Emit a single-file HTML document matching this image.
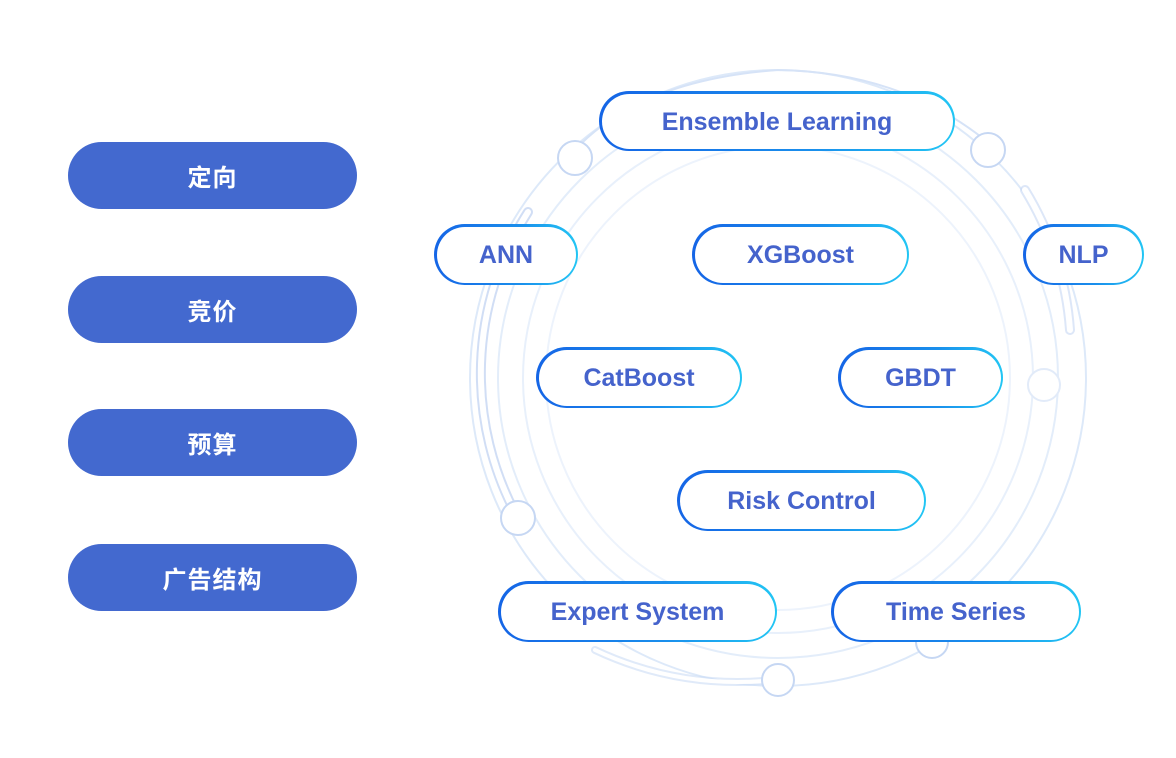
<!DOCTYPE html>
<html><head><meta charset="utf-8">
<style>
html,body{margin:0;padding:0;background:#fff;}
body{width:1176px;height:758px;position:relative;overflow:hidden;font-family:"Liberation Sans","Noto Sans CJK SC",sans-serif;}
.btn{position:absolute;left:68px;width:289px;height:67px;border-radius:34px;background:#4369cf;color:#fff;font-weight:bold;font-size:24px;display:flex;align-items:center;justify-content:center;letter-spacing:1px;}
.pill{position:absolute;border-radius:31px;padding:2.5px;background:linear-gradient(90deg,#1565e6,#1a8fec 60%,#22c6f4);box-sizing:border-box;}
.pill span{display:flex;width:100%;height:100%;border-radius:29px;background:#fff;align-items:center;justify-content:center;color:#4563cc;font-weight:bold;font-size:25px;box-sizing:border-box;padding-top:2px;}
svg{position:absolute;left:0;top:0;}
</style></head><body>
<svg width="1176" height="758" viewBox="0 0 1176 758">
<g fill="none" stroke="#c9dcf6" stroke-width="2">
<circle cx="778" cy="378" r="308" stroke="#dde9f9"/>
<circle cx="778" cy="378" r="280" stroke="#e3edfa"/>
<circle cx="778" cy="378" r="255" stroke="#e8f0fb"/>
<circle cx="778" cy="378" r="232" stroke="#edf3fc"/>
</g>
<g fill="none" stroke-linecap="round">
<path d="M528 212 A300 300 0 0 0 518 518" stroke="#b3c8ee" stroke-width="10" opacity="0.6"/>
<path d="M528 212 A300 300 0 0 0 518 518" stroke="#fff" stroke-width="6"/>
<path d="M1025 190 A310 310 0 0 1 1070 330" stroke="#c6d7f3" stroke-width="10" opacity="0.6"/>
<path d="M1025 190 A310 310 0 0 1 1070 330" stroke="#fff" stroke-width="6"/>
<path d="M595 650 Q680 690 775 680" stroke="#ccdcf5" stroke-width="8" opacity="0.6"/>
<path d="M595 650 Q680 690 775 680" stroke="#fff" stroke-width="4"/>
<path d="M575 150 Q640 80 778 70 Q900 72 985 140" stroke="#d6e3f7" stroke-width="2"/>
</g>
<g fill="#fff" stroke="#c6d7f3" stroke-width="2">
<circle cx="575" cy="158" r="17"/>
<circle cx="988" cy="150" r="17"/>
<circle cx="518" cy="518" r="17"/>
<circle cx="778" cy="680" r="16"/>
<circle cx="932" cy="642" r="16"/>
<circle cx="1044" cy="385" r="16" stroke="#e2ebf9"/>
</g>
</svg>
<div class="btn" style="top:142px">定向</div>
<div class="btn" style="top:276px">竞价</div>
<div class="btn" style="top:409px">预算</div>
<div class="btn" style="top:544px">广告结构</div>

<div class="pill" style="left:599px;top:91px;width:356px;height:60px"><span>Ensemble Learning</span></div>
<div class="pill" style="left:434px;top:224px;width:144px;height:61px"><span>ANN</span></div>
<div class="pill" style="left:692px;top:224px;width:217px;height:61px"><span>XGBoost</span></div>
<div class="pill" style="left:1023px;top:224px;width:121px;height:61px"><span>NLP</span></div>
<div class="pill" style="left:536px;top:347px;width:206px;height:61px"><span>CatBoost</span></div>
<div class="pill" style="left:838px;top:347px;width:165px;height:61px"><span>GBDT</span></div>
<div class="pill" style="left:677px;top:470px;width:249px;height:61px"><span>Risk Control</span></div>
<div class="pill" style="left:498px;top:581px;width:279px;height:61px"><span>Expert System</span></div>
<div class="pill" style="left:831px;top:581px;width:250px;height:61px"><span>Time Series</span></div>
</body></html>
